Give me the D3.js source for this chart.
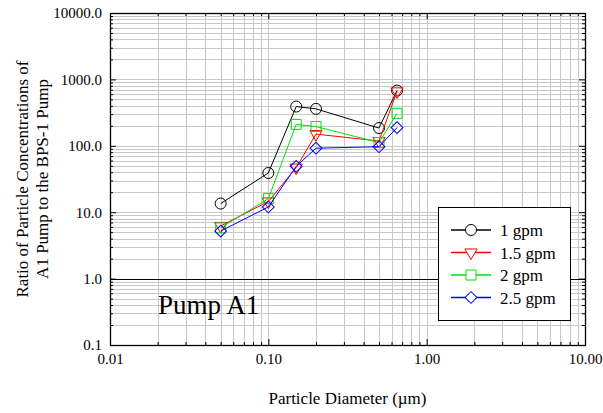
<!DOCTYPE html>
<html>
<head>
<meta charset="utf-8">
<script src="https://cdn.jsdelivr.net/npm/d3@7"></script>
<style>
  body { margin: 0; background: #fff; }
  svg { display: block; }
  svg text { font-family: "Liberation Serif", "Times New Roman", Times, serif !important; fill: #000; }
  .grid line { stroke: #c8c8c8; stroke-width: 1; }
</style>
</head>
<body>
<svg id="chart" width="603" height="413"></svg>
<script>
(function () {

  'use strict';

  // ----------- DATA --------------
  var diameters = [0.05, 0.1, 0.15, 0.2, 0.5, 0.65]; // particle diameter (um)
  var flow1 = [13.5, 39, 390, 360, 185, 680];     // 1 gpm
  var flow15 = [6.2, 14.5, 47, 150, 118, 660];    // 1.5 gpm
  var flow2 = [5.8, 16, 210, 195, 112, 308];      // 2 gpm
  var flow25 = [5.2, 12, 49, 92, 97, 188];        // 2.5 gpm
  var seriesNames = ['1 gpm', '1.5 gpm', '2 gpm', '2.5 gpm'];
  var xTicks = [0.01, 0.1, 1, 10];
  var yTicks = [0.1, 1, 10, 100, 1000, 10000];

  var series = [
    { name: seriesNames[0], values: flow1, color: '#000000', shape: 'circle' },
    { name: seriesNames[1], values: flow15, color: '#ff0000', shape: 'triangle' },
    { name: seriesNames[2], values: flow2, color: '#00e000', shape: 'square' },
    { name: seriesNames[3], values: flow25, color: '#0000ff', shape: 'diamond' }
  ];

  var FONT = '"Liberation Serif", "Times New Roman", Times, serif';
  var left = 110, right = 585, top = 13, bottom = 345;

  var svg = d3.select('#chart');

  var x = d3.scaleLog().domain([0.01, 10]).range([left, right]);
  var y = d3.scaleLog().domain([0.1, 10000]).range([bottom, top]);

  // every 1..9 position of each decade
  var xAll = x.ticks();
  var yAll = y.ticks();
  function isMajor(v) { return Math.abs(Math.log10(v) - Math.round(Math.log10(v))) < 1e-9; }
  var xMinor = xAll.filter(function (d) { return !isMajor(d); });
  var yMinor = yAll.filter(function (d) { return !isMajor(d); });

  // ----------- GRID --------------
  var grid = svg.append('g').attr('class', 'grid');
  grid.selectAll('.gx').data(xAll).enter().append('line')
    .attr('x1', function (d) { return Math.round(x(d)) + 0.5; })
    .attr('x2', function (d) { return Math.round(x(d)) + 0.5; })
    .attr('y1', top).attr('y2', bottom);
  grid.selectAll('.gy').data(yAll).enter().append('line')
    .attr('y1', function (d) { return Math.round(y(d)) + 0.5; })
    .attr('y2', function (d) { return Math.round(y(d)) + 0.5; })
    .attr('x1', left).attr('x2', right);

  // reference line at ratio = 1
  svg.append('line')
    .attr('x1', left).attr('x2', right)
    .attr('y1', Math.round(y(1)) + 0.5).attr('y2', Math.round(y(1)) + 0.5)
    .attr('stroke', '#000').attr('stroke-width', 1);

  // ----------- AXES --------------
  function drawAxis(axisFn, scale, ticks, size, fmt, transform) {
    var g = svg.append('g').attr('transform', transform)
      .call(axisFn(scale).tickValues(ticks).tickSizeInner(size).tickSizeOuter(0)
        .tickPadding(8).tickFormat(fmt));
    g.select('.domain').remove();
    g.attr('font-family', FONT).attr('font-size', 15);
    g.selectAll('line').attr('stroke', '#000');
    g.selectAll('text').style('font-family', FONT).style('font-size', '15px');
  }
  var none = function () { return ''; };

  drawAxis(d3.axisBottom, x, xTicks, -6, d3.format('.2f'), 'translate(0,' + bottom + ')');
  drawAxis(d3.axisBottom, x, xMinor, -3, none, 'translate(0,' + bottom + ')');
  drawAxis(d3.axisTop, x, xTicks, -6, none, 'translate(0,' + top + ')');
  drawAxis(d3.axisTop, x, xMinor, -3, none, 'translate(0,' + top + ')');
  drawAxis(d3.axisLeft, y, yTicks, -6, d3.format('.1f'), 'translate(' + left + ',0)');
  drawAxis(d3.axisLeft, y, yMinor, -3, none, 'translate(' + left + ',0)');
  drawAxis(d3.axisRight, y, yTicks, -6, none, 'translate(' + right + ',0)');
  drawAxis(d3.axisRight, y, yMinor, -3, none, 'translate(' + right + ',0)');

  // plot frame
  svg.append('rect')
    .attr('x', left + 0.5).attr('y', top + 0.5)
    .attr('width', right - left).attr('height', bottom - top)
    .attr('fill', 'none').attr('stroke', '#000').attr('stroke-width', 1.3);

  // ----------- SERIES --------------
  function symbolPath(shape) {
    if (shape === 'circle') return d3.symbol(d3.symbolCircle, 95)();
    if (shape === 'square') return d3.symbol(d3.symbolSquare, 100)();
    if (shape === 'triangle') return d3.symbol(d3.symbolTriangle, 65)();
    return d3.symbol(d3.symbolSquare, 70)();
  }
  function symbolRotate(shape) {
    if (shape === 'triangle') return ' rotate(180)';
    if (shape === 'diamond') return ' rotate(45)';
    return '';
  }

  var line = d3.line()
    .x(function (d, i) { return x(diameters[i]); })
    .y(function (d) { return y(d); });

  series.forEach(function (s) {
    var g = svg.append('g');
    g.append('path')
      .attr('d', line(s.values))
      .attr('fill', 'none').attr('stroke', s.color).attr('stroke-width', 1);
    g.selectAll('path.pt').data(s.values).enter().append('path')
      .attr('class', 'pt')
      .attr('d', symbolPath(s.shape))
      .attr('transform', function (d, i) {
        return 'translate(' + x(diameters[i]) + ',' + y(d) + ')' + symbolRotate(s.shape);
      })
      .attr('fill', 'none').attr('stroke', s.color).attr('stroke-width', 1);
  });

  // ----------- LEGEND --------------
  var legend = svg.append('g').attr('transform', 'translate(438,207)');
  legend.append('rect')
    .attr('x', 0.5).attr('y', 0.5).attr('width', 132).attr('height', 113)
    .attr('fill', '#fff').attr('stroke', '#000').attr('stroke-width', 1);

  var rows = legend.selectAll('g.row').data(series).enter().append('g')
    .attr('class', 'row')
    .attr('transform', function (d, i) { return 'translate(0,' + (23 + i * 22.5) + ')'; });
  rows.append('line')
    .attr('x1', 13).attr('x2', 53).attr('y1', 0).attr('y2', 0)
    .attr('stroke', function (d) { return d.color; }).attr('stroke-width', 1.5);
  rows.append('path')
    .attr('d', function (d) { return symbolPath(d.shape); })
    .attr('transform', function (d) { return 'translate(33,0)' + symbolRotate(d.shape); })
    .attr('fill', '#fff')
    .attr('stroke', function (d) { return d.color; }).attr('stroke-width', 1);
  rows.append('text')
    .attr('x', 62).attr('y', 6)
    .style('font-family', FONT).style('font-size', '17px')
    .text(function (d) { return d.name; });

  // ----------- LABELS --------------
  svg.append('text')
    .attr('x', 158).attr('y', 314)
    .style('font-family', FONT).style('font-size', '27px')
    .text('Pump A1');

  svg.append('text')
    .attr('x', (left + right) / 2).attr('y', 404)
    .attr('text-anchor', 'middle')
    .style('font-family', FONT).style('font-size', '17px')
    .text('Particle Diameter (\u00b5m)');

  var yTitle = svg.append('text')
    .attr('transform', 'translate(28,' + ((top + bottom) / 2) + ') rotate(-90)')
    .attr('text-anchor', 'middle')
    .style('font-family', FONT).style('font-size', '17px');
  yTitle.append('tspan').attr('x', 0).attr('dy', 0).text('Ratio of Particle Concentrations of');
  yTitle.append('tspan').attr('x', 0).attr('dy', 20).text('A1 Pump to the BPS-1 Pump');

})();
</script>
</body>
</html>
